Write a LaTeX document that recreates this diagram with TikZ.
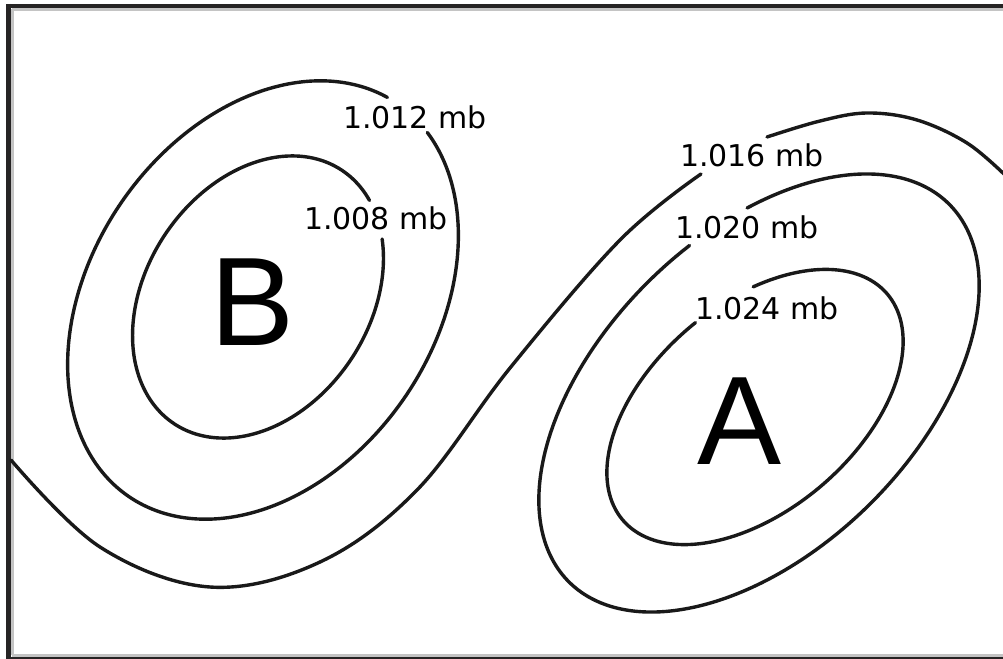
\documentclass[tikz,border=0pt]{standalone}
\usepackage{fontspec}
\newfontfamily\rotulofont{DejaVu Sans}
\newfontfamily\letrafont{Liberation Sans}
\definecolor{moldura}{RGB}{38, 36, 36}
\definecolor{sombra}{RGB}{196, 196, 196}
\usepackage{tikz}

\begin{document}
\begin{tikzpicture}[x=1pt, y=-1pt,
    isobara/.style={line width=3.4pt, line cap=round, black!90},
    pressao/.style={inner sep=0pt, font=\rotulofont\fontsize{30}{30}\selectfont},
    centro/.style={inner sep=0pt, font=\letrafont\fontsize{126}{126}\selectfont}]
    \useasboundingbox[fill=white] (0,0) rectangle (1003,658);
    % moldura
    \draw[sombra, line width=3pt] (12,9.5) -- (1003,9.5);
    \draw[sombra, line width=3pt] (12.5,9) -- (12.5,655);
    \draw[sombra, line width=3pt] (12,655) -- (1003,655);
    \draw[moldura, line width=4pt] (6,6) -- (1003,6);
    \draw[moldura, line width=4.5pt] (8.5,4) -- (8.5,658);
    \draw[moldura, line width=3pt] (6,658.5) -- (1003,658.5);
    % isobaras fechadas: centro, raios, giro, angulo inicial e final
    \foreach \cx/\cy/\rx/\ry/\giro/\ini/\fim in {
        258/297/152/112/56.6/-20.9/320.2,
        263/300/238/172/55.7/3.8/346.1,
        759/393/268/157/44.7/78.3/423,
        755/407/174/103/40.6/86.8/423.8} {
      \draw[isobara] plot[domain=\ini:\fim, samples=150, smooth]
        ({\cx + \rx*cos(\x)*cos(\giro) - \ry*sin(\x)*sin(\giro)},
         {\cy - \rx*cos(\x)*sin(\giro) - \ry*sin(\x)*cos(\giro)});
    }
    % isobara em S
    \draw[isobara] plot[smooth, tension=0.6] coordinates {(11,460) (100,547) (210,587)
      (320,562) (417,490) (510,368) (620,240) (701,174)};
    \draw[isobara] plot[smooth, tension=0.6] coordinates {(767,137) (820,121) (867,113)
      (917,120) (967,143) (1005,175)};
    % rotulos
    \node[pressao] (p1012) at (415,117) {1.012 mb};
    \node[pressao] (p1008) at (376,218) {1.008 mb};
    \node[pressao] (p1016) at (752,155) {1.016 mb};
    \node[pressao] (p1020) at (747,227) {1.020 mb};
    \node[pressao] (p1024) at (767,308) {1.024 mb};
    \node[centro] (baixa) at (253,302) {B};
    \node[centro] (alta) at (740,421) {A};
\end{tikzpicture}
\end{document}
